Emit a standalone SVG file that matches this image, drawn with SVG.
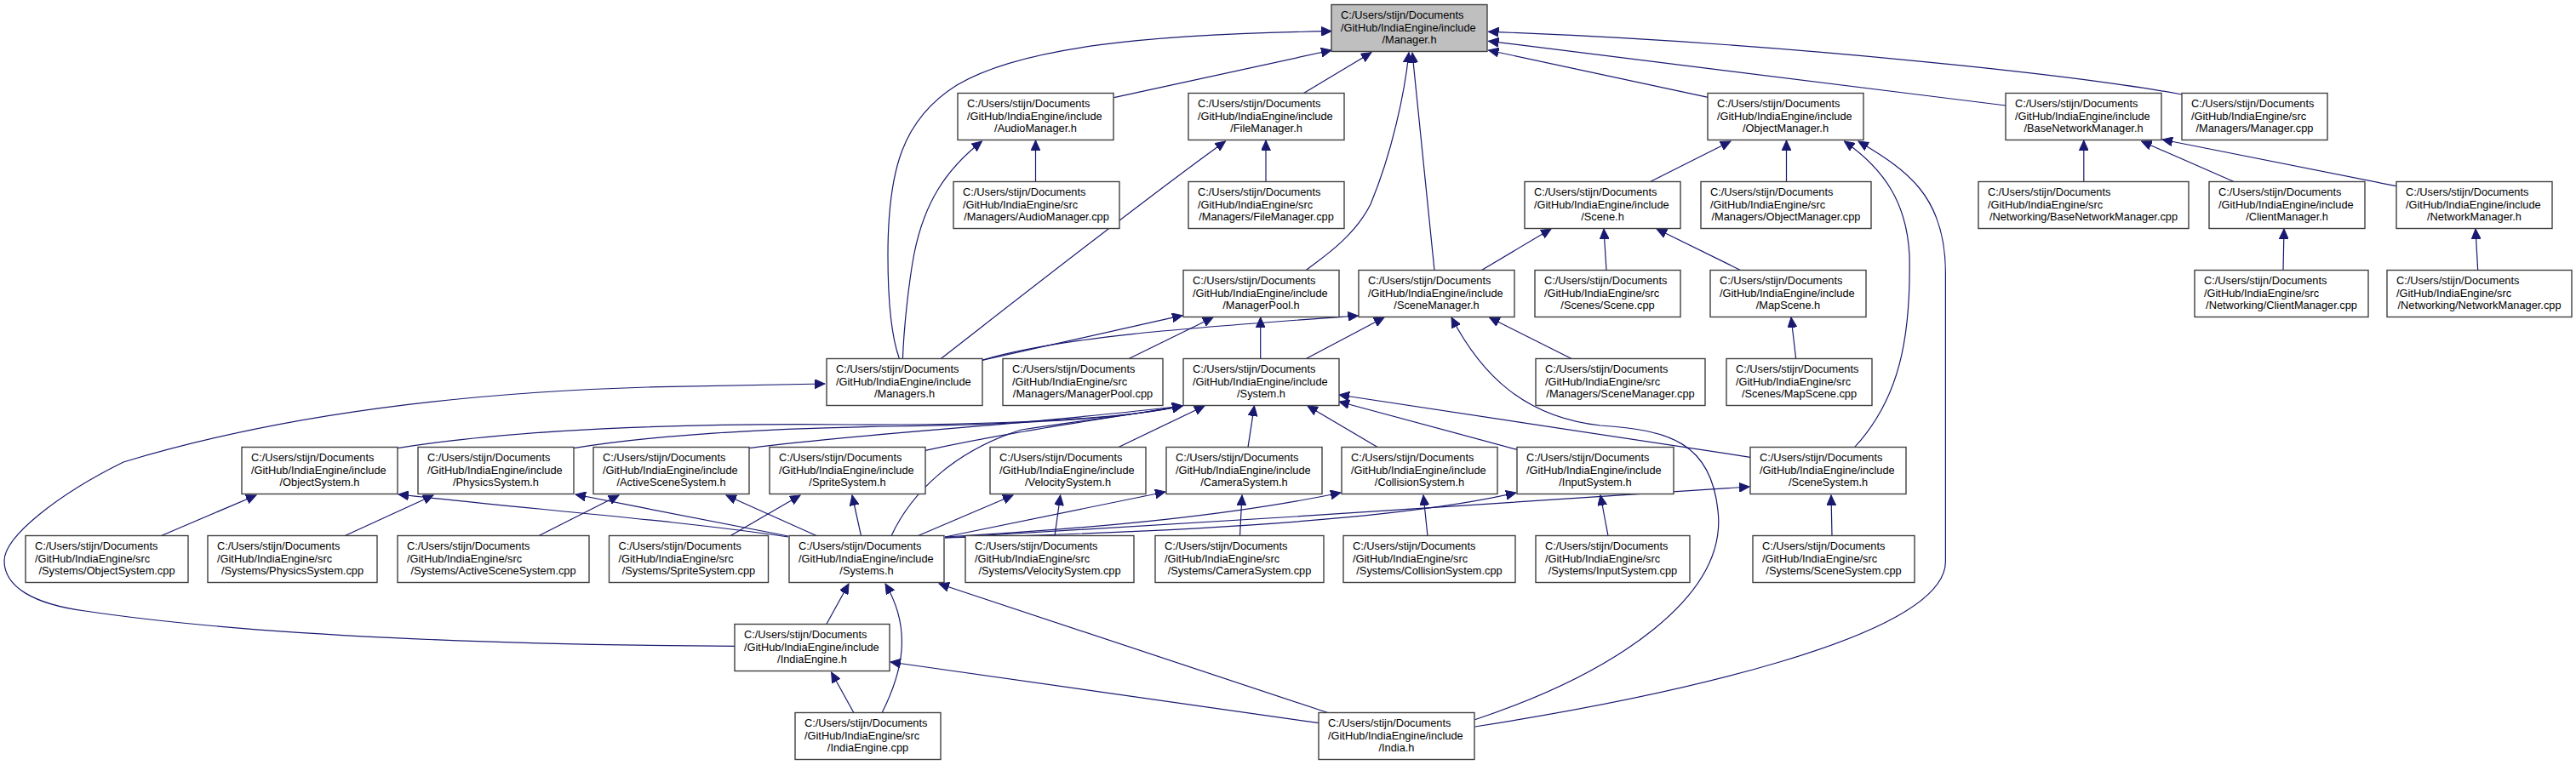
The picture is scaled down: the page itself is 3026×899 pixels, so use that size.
<svg xmlns="http://www.w3.org/2000/svg" width="3026" height="899" viewBox="0 0 3026 899">
<style>
.n rect{fill:#ffffff;stroke:#404040;stroke-width:1.4}
.n text{font-family:"Liberation Sans",Arial,sans-serif;font-size:12.8px;fill:#000000}
.n text.m{text-anchor:middle}
#n_manager_h rect{fill:#bfbfbf}
.c path{fill:none;stroke:#191970;stroke-width:1.2;marker-end:url(#a)}
</style>
<defs>
<marker id="a" markerUnits="userSpaceOnUse" markerWidth="13" markerHeight="11" refX="12" refY="5.5" orient="auto"><path d="M0,0 L12,5.5 L0,11 z" fill="#191970" stroke="#191970" stroke-width="1"/></marker>
</defs>
<rect width="3026" height="899" fill="#ffffff"/>
<g id="connectors" class="c">
<path d="M1308.6,114.7 L1564,59"/>
<path d="M1056.5,421.7 C1045,390 1043,340 1043,300 C1043,200 1060,140 1124,100 C1200,55 1350,40 1564,36.7"/>
<path d="M1531.4,109.5 L1611,61.7"/>
<path d="M1533.8,317.7 C1550,305 1590,280 1610,240 C1635,180 1650,110 1655,61.7"/>
<path d="M1685,317.7 L1659,62"/>
<path d="M2006.4,114.3 L1748.5,59"/>
<path d="M2356.2,124 L1748.5,48.3"/>
<path d="M2563,111 C2450,90 2100,50 1748.5,37.3"/>
<path d="M1216.5,213.7 L1216.5,165"/>
<path d="M1060.4,421.7 C1062,380 1068,330 1073.5,300 C1085,240 1110,200 1153.5,166"/>
<path d="M1105,421.7 C1210,340 1350,230 1439.5,166"/>
<path d="M1487,213.7 L1487,165"/>
<path d="M1938.6,213.5 L2033,166"/>
<path d="M2098.5,213.7 L2098.5,165"/>
<path d="M2178.5,525.7 C2230,470 2245,400 2243,300 C2240,240 2215,200 2166.4,166"/>
<path d="M1732.5,854 C1950,820 2285,750 2285.4,660 L2285.4,320 C2285,230 2240,200 2183,166"/>
<path d="M2447.8,213.7 L2447.8,165"/>
<path d="M2624.7,213.7 L2515.6,166"/>
<path d="M2814.7,218.7 L2540,164"/>
<path d="M2682,317.7 L2683,269"/>
<path d="M2910.7,317.7 L2908,269"/>
<path d="M1740,317.7 L1822,269"/>
<path d="M1887,317.7 L1884,269"/>
<path d="M2045,317.7 L1946,269"/>
<path d="M2109.7,421.7 L2104,373"/>
<path d="M1846.5,421.7 L1749.5,373"/>
<path d="M1732.5,845.7 C1900,790 2030,700 2018,600 C2010,520 1960,505 1880,500 C1790,490 1740,440 1705,373"/>
<path d="M1480.7,421.7 L1480.7,373"/>
<path d="M1533.8,421.7 L1626,373"/>
<path d="M1153.5,423.3 L1389,370.7"/>
<path d="M1153.5,423.3 C1250,395 1400,385 1595.4,371"/>
<path d="M1325.6,421.7 L1425,373"/>
<path d="M466.8,526.7 C600,505 800,497 1000,499 C1200,500 1330,490 1389,477"/>
<path d="M673.8,526.7 C760,512 900,503 1050,501 C1250,498 1340,488 1389,477"/>
<path d="M880,526.7 C1000,510 1200,500 1389,477"/>
<path d="M1087,529.3 C1200,505 1300,492 1389,477"/>
<path d="M1047,629.7 C1070,580 1120,530 1200,505 C1300,490 1350,485 1389,477"/>
<path d="M1313.4,525.7 L1415,477"/>
<path d="M1466,525.7 L1473.4,477"/>
<path d="M1618.6,525.7 L1536,477"/>
<path d="M1782,528.3 L1573,472"/>
<path d="M2055.9,537.3 L1573,464"/>
<path d="M926,631 C800,612 620,598 468,581"/>
<path d="M926,630 C850,615 760,598 676,581"/>
<path d="M959.6,629.7 L853,582"/>
<path d="M1011.5,629.7 L1001,582"/>
<path d="M1078,629.7 L1190,582"/>
<path d="M1110,631 L1369,578"/>
<path d="M1110,631 C1300,620 1450,605 1575,579"/>
<path d="M1110,632 C1400,625 1650,610 1781,579"/>
<path d="M1110,632 C1400,615 1800,590 2055,572"/>
<path d="M189,629.7 L301,582"/>
<path d="M404.8,629.7 L509,582"/>
<path d="M632.6,629.7 L727,582"/>
<path d="M857.8,629.7 L940,582"/>
<path d="M1239,629.7 L1245.6,582"/>
<path d="M1456.5,629.7 L1459,582"/>
<path d="M1677,629.7 L1672,582"/>
<path d="M1889,629.7 L1880,582"/>
<path d="M2152,629.7 L2151,582"/>
<path d="M863,759.3 C600,758 300,748 100,718 C40,710 5,690 5,659 C5,630 70,580 145,543 C320,490 530,462 760,455 L969,451"/>
<path d="M1560.5,837.7 L1103,686"/>
<path d="M1549.3,849.7 L1046,778"/>
<path d="M1003,837.7 L976.6,790"/>
<path d="M1036,837.7 C1060,790 1072,740 1040,686"/>
<path d="M970.7,733.7 L997,686"/>
</g>
<g id="n_manager_h" class="n"><rect x="1564" y="5.5" width="183" height="55"/><text x="1575" y="21.8">C:/Users/stijn/Documents</text><text x="1575" y="36.5">/GitHub/IndiaEngine/include</text><text class="m" x="1655.5" y="51.2">/Manager.h</text></g>
<g id="n_audiomanager_h" class="n"><rect x="1125" y="109.5" width="183" height="55"/><text x="1136" y="125.8">C:/Users/stijn/Documents</text><text x="1136" y="140.5">/GitHub/IndiaEngine/include</text><text class="m" x="1216.5" y="155.2">/AudioManager.h</text></g>
<g id="n_filemanager_h" class="n"><rect x="1396" y="109.5" width="183" height="55"/><text x="1407" y="125.8">C:/Users/stijn/Documents</text><text x="1407" y="140.5">/GitHub/IndiaEngine/include</text><text class="m" x="1487.5" y="155.2">/FileManager.h</text></g>
<g id="n_objectmanager_h" class="n"><rect x="2006" y="109.5" width="183" height="55"/><text x="2017" y="125.8">C:/Users/stijn/Documents</text><text x="2017" y="140.5">/GitHub/IndiaEngine/include</text><text class="m" x="2097.5" y="155.2">/ObjectManager.h</text></g>
<g id="n_basenetworkmanager_h" class="n"><rect x="2356" y="109.5" width="183" height="55"/><text x="2367" y="125.8">C:/Users/stijn/Documents</text><text x="2367" y="140.5">/GitHub/IndiaEngine/include</text><text class="m" x="2447.5" y="155.2">/BaseNetworkManager.h</text></g>
<g id="n_manager_cpp" class="n"><rect x="2563" y="109.5" width="171" height="55"/><text x="2574" y="125.8">C:/Users/stijn/Documents</text><text x="2574" y="140.5">/GitHub/IndiaEngine/src</text><text class="m" x="2648.5" y="155.2">/Managers/Manager.cpp</text></g>
<g id="n_audiomanager_cpp" class="n"><rect x="1120" y="213.5" width="195" height="55"/><text x="1131" y="229.8">C:/Users/stijn/Documents</text><text x="1131" y="244.5">/GitHub/IndiaEngine/src</text><text class="m" x="1217.5" y="259.2">/Managers/AudioManager.cpp</text></g>
<g id="n_filemanager_cpp" class="n"><rect x="1396" y="213.5" width="183" height="55"/><text x="1407" y="229.8">C:/Users/stijn/Documents</text><text x="1407" y="244.5">/GitHub/IndiaEngine/src</text><text class="m" x="1487.5" y="259.2">/Managers/FileManager.cpp</text></g>
<g id="n_scene_h" class="n"><rect x="1791" y="213.5" width="183" height="55"/><text x="1802" y="229.8">C:/Users/stijn/Documents</text><text x="1802" y="244.5">/GitHub/IndiaEngine/include</text><text class="m" x="1882.5" y="259.2">/Scene.h</text></g>
<g id="n_objectmanager_cpp" class="n"><rect x="1998" y="213.5" width="200" height="55"/><text x="2009" y="229.8">C:/Users/stijn/Documents</text><text x="2009" y="244.5">/GitHub/IndiaEngine/src</text><text class="m" x="2098" y="259.2">/Managers/ObjectManager.cpp</text></g>
<g id="n_basenetworkmanager_cpp" class="n"><rect x="2324" y="213.5" width="247" height="55"/><text x="2335" y="229.8">C:/Users/stijn/Documents</text><text x="2335" y="244.5">/GitHub/IndiaEngine/src</text><text class="m" x="2447.5" y="259.2">/Networking/BaseNetworkManager.cpp</text></g>
<g id="n_clientmanager_h" class="n"><rect x="2595" y="213.5" width="183" height="55"/><text x="2606" y="229.8">C:/Users/stijn/Documents</text><text x="2606" y="244.5">/GitHub/IndiaEngine/include</text><text class="m" x="2686.5" y="259.2">/ClientManager.h</text></g>
<g id="n_networkmanager_h" class="n"><rect x="2815" y="213.5" width="183" height="55"/><text x="2826" y="229.8">C:/Users/stijn/Documents</text><text x="2826" y="244.5">/GitHub/IndiaEngine/include</text><text class="m" x="2906.5" y="259.2">/NetworkManager.h</text></g>
<g id="n_managerpool_h" class="n"><rect x="1390" y="317.5" width="183" height="55"/><text x="1401" y="333.8">C:/Users/stijn/Documents</text><text x="1401" y="348.5">/GitHub/IndiaEngine/include</text><text class="m" x="1481.5" y="363.2">/ManagerPool.h</text></g>
<g id="n_scenemanager_h" class="n"><rect x="1596" y="317.5" width="183" height="55"/><text x="1607" y="333.8">C:/Users/stijn/Documents</text><text x="1607" y="348.5">/GitHub/IndiaEngine/include</text><text class="m" x="1687.5" y="363.2">/SceneManager.h</text></g>
<g id="n_scene_cpp" class="n"><rect x="1803" y="317.5" width="171" height="55"/><text x="1814" y="333.8">C:/Users/stijn/Documents</text><text x="1814" y="348.5">/GitHub/IndiaEngine/src</text><text class="m" x="1888.5" y="363.2">/Scenes/Scene.cpp</text></g>
<g id="n_mapscene_h" class="n"><rect x="2009" y="317.5" width="183" height="55"/><text x="2020" y="333.8">C:/Users/stijn/Documents</text><text x="2020" y="348.5">/GitHub/IndiaEngine/include</text><text class="m" x="2100.5" y="363.2">/MapScene.h</text></g>
<g id="n_clientmanager_cpp" class="n"><rect x="2578" y="317.5" width="204" height="55"/><text x="2589" y="333.8">C:/Users/stijn/Documents</text><text x="2589" y="348.5">/GitHub/IndiaEngine/src</text><text class="m" x="2680" y="363.2">/Networking/ClientManager.cpp</text></g>
<g id="n_networkmanager_cpp" class="n"><rect x="2804" y="317.5" width="217" height="55"/><text x="2815" y="333.8">C:/Users/stijn/Documents</text><text x="2815" y="348.5">/GitHub/IndiaEngine/src</text><text class="m" x="2912.5" y="363.2">/Networking/NetworkManager.cpp</text></g>
<g id="n_managers_h" class="n"><rect x="971" y="421.5" width="183" height="55"/><text x="982" y="437.8">C:/Users/stijn/Documents</text><text x="982" y="452.5">/GitHub/IndiaEngine/include</text><text class="m" x="1062.5" y="467.2">/Managers.h</text></g>
<g id="n_managerpool_cpp" class="n"><rect x="1178" y="421.5" width="188" height="55"/><text x="1189" y="437.8">C:/Users/stijn/Documents</text><text x="1189" y="452.5">/GitHub/IndiaEngine/src</text><text class="m" x="1272" y="467.2">/Managers/ManagerPool.cpp</text></g>
<g id="n_system_h" class="n"><rect x="1390" y="421.5" width="183" height="55"/><text x="1401" y="437.8">C:/Users/stijn/Documents</text><text x="1401" y="452.5">/GitHub/IndiaEngine/include</text><text class="m" x="1481.5" y="467.2">/System.h</text></g>
<g id="n_scenemanager_cpp" class="n"><rect x="1804" y="421.5" width="199" height="55"/><text x="1815" y="437.8">C:/Users/stijn/Documents</text><text x="1815" y="452.5">/GitHub/IndiaEngine/src</text><text class="m" x="1903.5" y="467.2">/Managers/SceneManager.cpp</text></g>
<g id="n_mapscene_cpp" class="n"><rect x="2028" y="421.5" width="171" height="55"/><text x="2039" y="437.8">C:/Users/stijn/Documents</text><text x="2039" y="452.5">/GitHub/IndiaEngine/src</text><text class="m" x="2113.5" y="467.2">/Scenes/MapScene.cpp</text></g>
<g id="n_objectsystem_h" class="n"><rect x="284" y="525.5" width="183" height="55"/><text x="295" y="541.8">C:/Users/stijn/Documents</text><text x="295" y="556.5">/GitHub/IndiaEngine/include</text><text class="m" x="375.5" y="571.2">/ObjectSystem.h</text></g>
<g id="n_physicssystem_h" class="n"><rect x="491" y="525.5" width="183" height="55"/><text x="502" y="541.8">C:/Users/stijn/Documents</text><text x="502" y="556.5">/GitHub/IndiaEngine/include</text><text class="m" x="582.5" y="571.2">/PhysicsSystem.h</text></g>
<g id="n_activescenesystem_h" class="n"><rect x="697" y="525.5" width="183" height="55"/><text x="708" y="541.8">C:/Users/stijn/Documents</text><text x="708" y="556.5">/GitHub/IndiaEngine/include</text><text class="m" x="788.5" y="571.2">/ActiveSceneSystem.h</text></g>
<g id="n_spritesystem_h" class="n"><rect x="904" y="525.5" width="183" height="55"/><text x="915" y="541.8">C:/Users/stijn/Documents</text><text x="915" y="556.5">/GitHub/IndiaEngine/include</text><text class="m" x="995.5" y="571.2">/SpriteSystem.h</text></g>
<g id="n_velocitysystem_h" class="n"><rect x="1163" y="525.5" width="183" height="55"/><text x="1174" y="541.8">C:/Users/stijn/Documents</text><text x="1174" y="556.5">/GitHub/IndiaEngine/include</text><text class="m" x="1254.5" y="571.2">/VelocitySystem.h</text></g>
<g id="n_camerasystem_h" class="n"><rect x="1370" y="525.5" width="183" height="55"/><text x="1381" y="541.8">C:/Users/stijn/Documents</text><text x="1381" y="556.5">/GitHub/IndiaEngine/include</text><text class="m" x="1461.5" y="571.2">/CameraSystem.h</text></g>
<g id="n_collisionsystem_h" class="n"><rect x="1576" y="525.5" width="183" height="55"/><text x="1587" y="541.8">C:/Users/stijn/Documents</text><text x="1587" y="556.5">/GitHub/IndiaEngine/include</text><text class="m" x="1667.5" y="571.2">/CollisionSystem.h</text></g>
<g id="n_inputsystem_h" class="n"><rect x="1782" y="525.5" width="184" height="55"/><text x="1793" y="541.8">C:/Users/stijn/Documents</text><text x="1793" y="556.5">/GitHub/IndiaEngine/include</text><text class="m" x="1874" y="571.2">/InputSystem.h</text></g>
<g id="n_scenesystem_h" class="n"><rect x="2056" y="525.5" width="183" height="55"/><text x="2067" y="541.8">C:/Users/stijn/Documents</text><text x="2067" y="556.5">/GitHub/IndiaEngine/include</text><text class="m" x="2147.5" y="571.2">/SceneSystem.h</text></g>
<g id="n_objectsystem_cpp" class="n"><rect x="30" y="629.5" width="191" height="55"/><text x="41" y="645.8">C:/Users/stijn/Documents</text><text x="41" y="660.5">/GitHub/IndiaEngine/src</text><text class="m" x="125.5" y="675.2">/Systems/ObjectSystem.cpp</text></g>
<g id="n_physicssystem_cpp" class="n"><rect x="244" y="629.5" width="199" height="55"/><text x="255" y="645.8">C:/Users/stijn/Documents</text><text x="255" y="660.5">/GitHub/IndiaEngine/src</text><text class="m" x="343.5" y="675.2">/Systems/PhysicsSystem.cpp</text></g>
<g id="n_activescenesystem_cpp" class="n"><rect x="467" y="629.5" width="225" height="55"/><text x="478" y="645.8">C:/Users/stijn/Documents</text><text x="478" y="660.5">/GitHub/IndiaEngine/src</text><text class="m" x="579.5" y="675.2">/Systems/ActiveSceneSystem.cpp</text></g>
<g id="n_spritesystem_cpp" class="n"><rect x="715.5" y="629.5" width="187" height="55"/><text x="726.5" y="645.8">C:/Users/stijn/Documents</text><text x="726.5" y="660.5">/GitHub/IndiaEngine/src</text><text class="m" x="809" y="675.2">/Systems/SpriteSystem.cpp</text></g>
<g id="n_systems_h" class="n"><rect x="927" y="629.5" width="182" height="55"/><text x="938" y="645.8">C:/Users/stijn/Documents</text><text x="938" y="660.5">/GitHub/IndiaEngine/include</text><text class="m" x="1018" y="675.2">/Systems.h</text></g>
<g id="n_velocitysystem_cpp" class="n"><rect x="1134" y="629.5" width="198" height="55"/><text x="1145" y="645.8">C:/Users/stijn/Documents</text><text x="1145" y="660.5">/GitHub/IndiaEngine/src</text><text class="m" x="1233" y="675.2">/Systems/VelocitySystem.cpp</text></g>
<g id="n_camerasystem_cpp" class="n"><rect x="1357" y="629.5" width="198" height="55"/><text x="1368" y="645.8">C:/Users/stijn/Documents</text><text x="1368" y="660.5">/GitHub/IndiaEngine/src</text><text class="m" x="1456" y="675.2">/Systems/CameraSystem.cpp</text></g>
<g id="n_collisionsystem_cpp" class="n"><rect x="1578" y="629.5" width="202" height="55"/><text x="1589" y="645.8">C:/Users/stijn/Documents</text><text x="1589" y="660.5">/GitHub/IndiaEngine/src</text><text class="m" x="1679" y="675.2">/Systems/CollisionSystem.cpp</text></g>
<g id="n_inputsystem_cpp" class="n"><rect x="1804" y="629.5" width="181" height="55"/><text x="1815" y="645.8">C:/Users/stijn/Documents</text><text x="1815" y="660.5">/GitHub/IndiaEngine/src</text><text class="m" x="1894.5" y="675.2">/Systems/InputSystem.cpp</text></g>
<g id="n_scenesystem_cpp" class="n"><rect x="2059" y="629.5" width="190" height="55"/><text x="2070" y="645.8">C:/Users/stijn/Documents</text><text x="2070" y="660.5">/GitHub/IndiaEngine/src</text><text class="m" x="2154" y="675.2">/Systems/SceneSystem.cpp</text></g>
<g id="n_indiaengine_h" class="n"><rect x="863" y="733.5" width="182" height="55"/><text x="874" y="749.8">C:/Users/stijn/Documents</text><text x="874" y="764.5">/GitHub/IndiaEngine/include</text><text class="m" x="954" y="779.2">/IndiaEngine.h</text></g>
<g id="n_indiaengine_cpp" class="n"><rect x="934" y="837.5" width="171" height="55"/><text x="945" y="853.8">C:/Users/stijn/Documents</text><text x="945" y="868.5">/GitHub/IndiaEngine/src</text><text class="m" x="1019.5" y="883.2">/IndiaEngine.cpp</text></g>
<g id="n_india_h" class="n"><rect x="1549" y="837.5" width="183" height="55"/><text x="1560" y="853.8">C:/Users/stijn/Documents</text><text x="1560" y="868.5">/GitHub/IndiaEngine/include</text><text class="m" x="1640.5" y="883.2">/India.h</text></g>
</svg>
